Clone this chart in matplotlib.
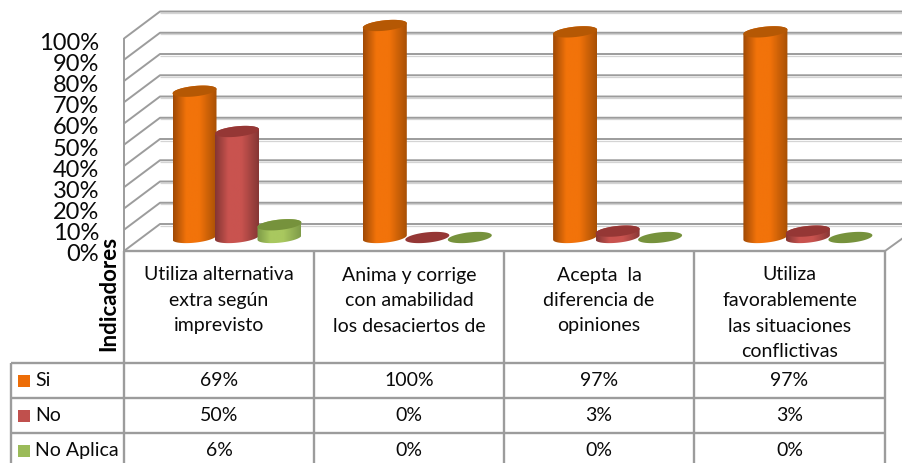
import numpy as np
import matplotlib
matplotlib.use('Agg')
import matplotlib.pyplot as plt
from matplotlib.colors import LinearSegmentedColormap
from matplotlib.patches import Polygon

plt.rcParams['font.family'] = ['Lato', 'DejaVu Sans']

categories = ['Utiliza alternativa\nextra según\nimprevisto',
              'Anima y corrige\ncon amabilidad\nlos desaciertos de',
              'Acepta  la\ndiferencia de\nopiniones',
              'Utiliza\nfavorablemente\nlas situaciones\nconflictivas']
series_names = ['Si', 'No', 'No Aplica']
si = [69, 100, 97, 97]
no = [50, 0, 3, 3]
no_aplica = [6, 0, 0, 0]
ticks = [0, 10, 20, 30, 40, 50, 60, 70, 80, 90, 100]

W, H = 903, 463
fig = plt.figure(figsize=(W / 100, H / 100), dpi=100)

# pixel layer for walls and the data table
bg = fig.add_axes([0, 0, 1, 1])
bg.set_xlim(0, W)
bg.set_ylim(H, 0)
bg.axis('off')

GREY = '#9c9c9c'
LIGHT = '#d4d4d4'
TXT = '#0a0a0a'


def line(xs, ys, c=GREY, lw=1.4):
    bg.plot(xs, ys, color=c, lw=lw, solid_capstyle='butt')


# walls
for t in ticks:
    y_front = 251 - 2.125 * t
    y_back = y_front - 27
    line([160, W], [y_back + 1.5, y_back + 1.5], LIGHT, 0.9)
    line([124, 160, W], [y_front, y_back, y_back])
    bg.text(99, 254.5 - 2.11 * t, f'{t}%', ha='right', va='center', fontsize=17, color=TXT)
line([124, 124], [38, 251])
line([885, W], [251, 238])

# table lines
col_x = [124, 314, 504, 694, 885]
row_y = [363, 398, 433]
line([124, 885], [251, 251], lw=1.7)
for x in col_x:
    line([x, x], [251, H], lw=1.7)
line([11, 11], [363, H], lw=1.7)
for y in row_y:
    line([11, 885], [y, y], lw=1.7)

bg.text(109, 293, 'Indicadores', rotation=90, ha='center', va='center',
        fontsize=16, fontweight='bold', color='black')

for i, cat in enumerate(categories):
    cx = (col_x[i] + col_x[i + 1]) / 2
    for j, part in enumerate(cat.split('\n')):
        bg.text(cx, 275 + 25.5 * j, part, ha='center', va='center', fontsize=14, color=TXT)

colors = ['#ED6D07', '#C0504D', '#9BBB59']
rows = [si, no, no_aplica]
for r, (name, vals) in enumerate(zip(series_names, rows)):
    y = 380.5 + 35 * r
    bg.add_patch(plt.Rectangle((18, y - 6), 12, 12, color=colors[r], lw=0))
    bg.text(35, y, name, ha='left', va='center', fontsize=14, color=TXT)
    for i, v in enumerate(vals):
        bg.text((col_x[i] + col_x[i + 1]) / 2, y, f'{v}%', ha='center', va='center',
                fontsize=14, color=TXT)

# data layer: x in categories, y in percent
ax = fig.add_axes([0, 0, 1, 1])
ax.patch.set_alpha(0)
ax.axis('off')
PX_X = 190.3
PX_Y = 2.12
xlim = (-237 / PX_X, (W - 237) / PX_X)
ylim = ((237.5 - H) / PX_Y, 237.5 / PX_Y)

offsets = [-42.5 / PX_X, 0, 42.5 / PX_X]
a = 22 / PX_X
b = 5.2 / PX_Y
k = 2.2 / PX_Y
body_maps = [('#A04A05', '#F2730A', '#A85005'),
             ('#843634', '#C9534F', '#863735'),
             ('#7D9A47', '#A9C85F', '#7F9C49')]
top_colors = ['#B55804', '#953735', '#76923C']


def ring(cx, cy, t):
    # rim of a column, tilted up to the right
    return np.column_stack([cx + a * np.cos(t), cy + b * np.sin(t) + k * np.cos(t)])


for r, vals in enumerate(rows):
    cmap = LinearSegmentedColormap.from_list('c', [(0, body_maps[r][0]), (0.3, body_maps[r][1]),
                                                   (0.6, body_maps[r][1]), (1, body_maps[r][2])])
    for i, v in enumerate(vals):
        cx = i + offsets[r]
        z = 3 + r * 0.1 + i
        if v > 0:
            low = ring(cx, 0, np.linspace(np.pi, 2 * np.pi, 40))
            up = ring(cx, v, np.linspace(0, np.pi, 40))
            body = Polygon(np.vstack([low, up]), closed=True, transform=ax.transData, fc='none', ec='none')
            ax.add_patch(body)
            im = ax.imshow(np.linspace(0, 1, 64).reshape(1, -1), cmap=cmap, aspect='auto',
                           extent=(cx - a, cx + a, -15, v + 15), zorder=z, interpolation='bilinear')
            im.set_clip_path(body)
        top = ring(cx, v, np.linspace(0, 2 * np.pi, 80))
        ax.add_patch(Polygon(top, closed=True, fc=top_colors[r], ec='none', zorder=z + 0.01))

ax.set_xlim(*xlim)
ax.set_ylim(*ylim)

fig.savefig('out.png', dpi=100)
